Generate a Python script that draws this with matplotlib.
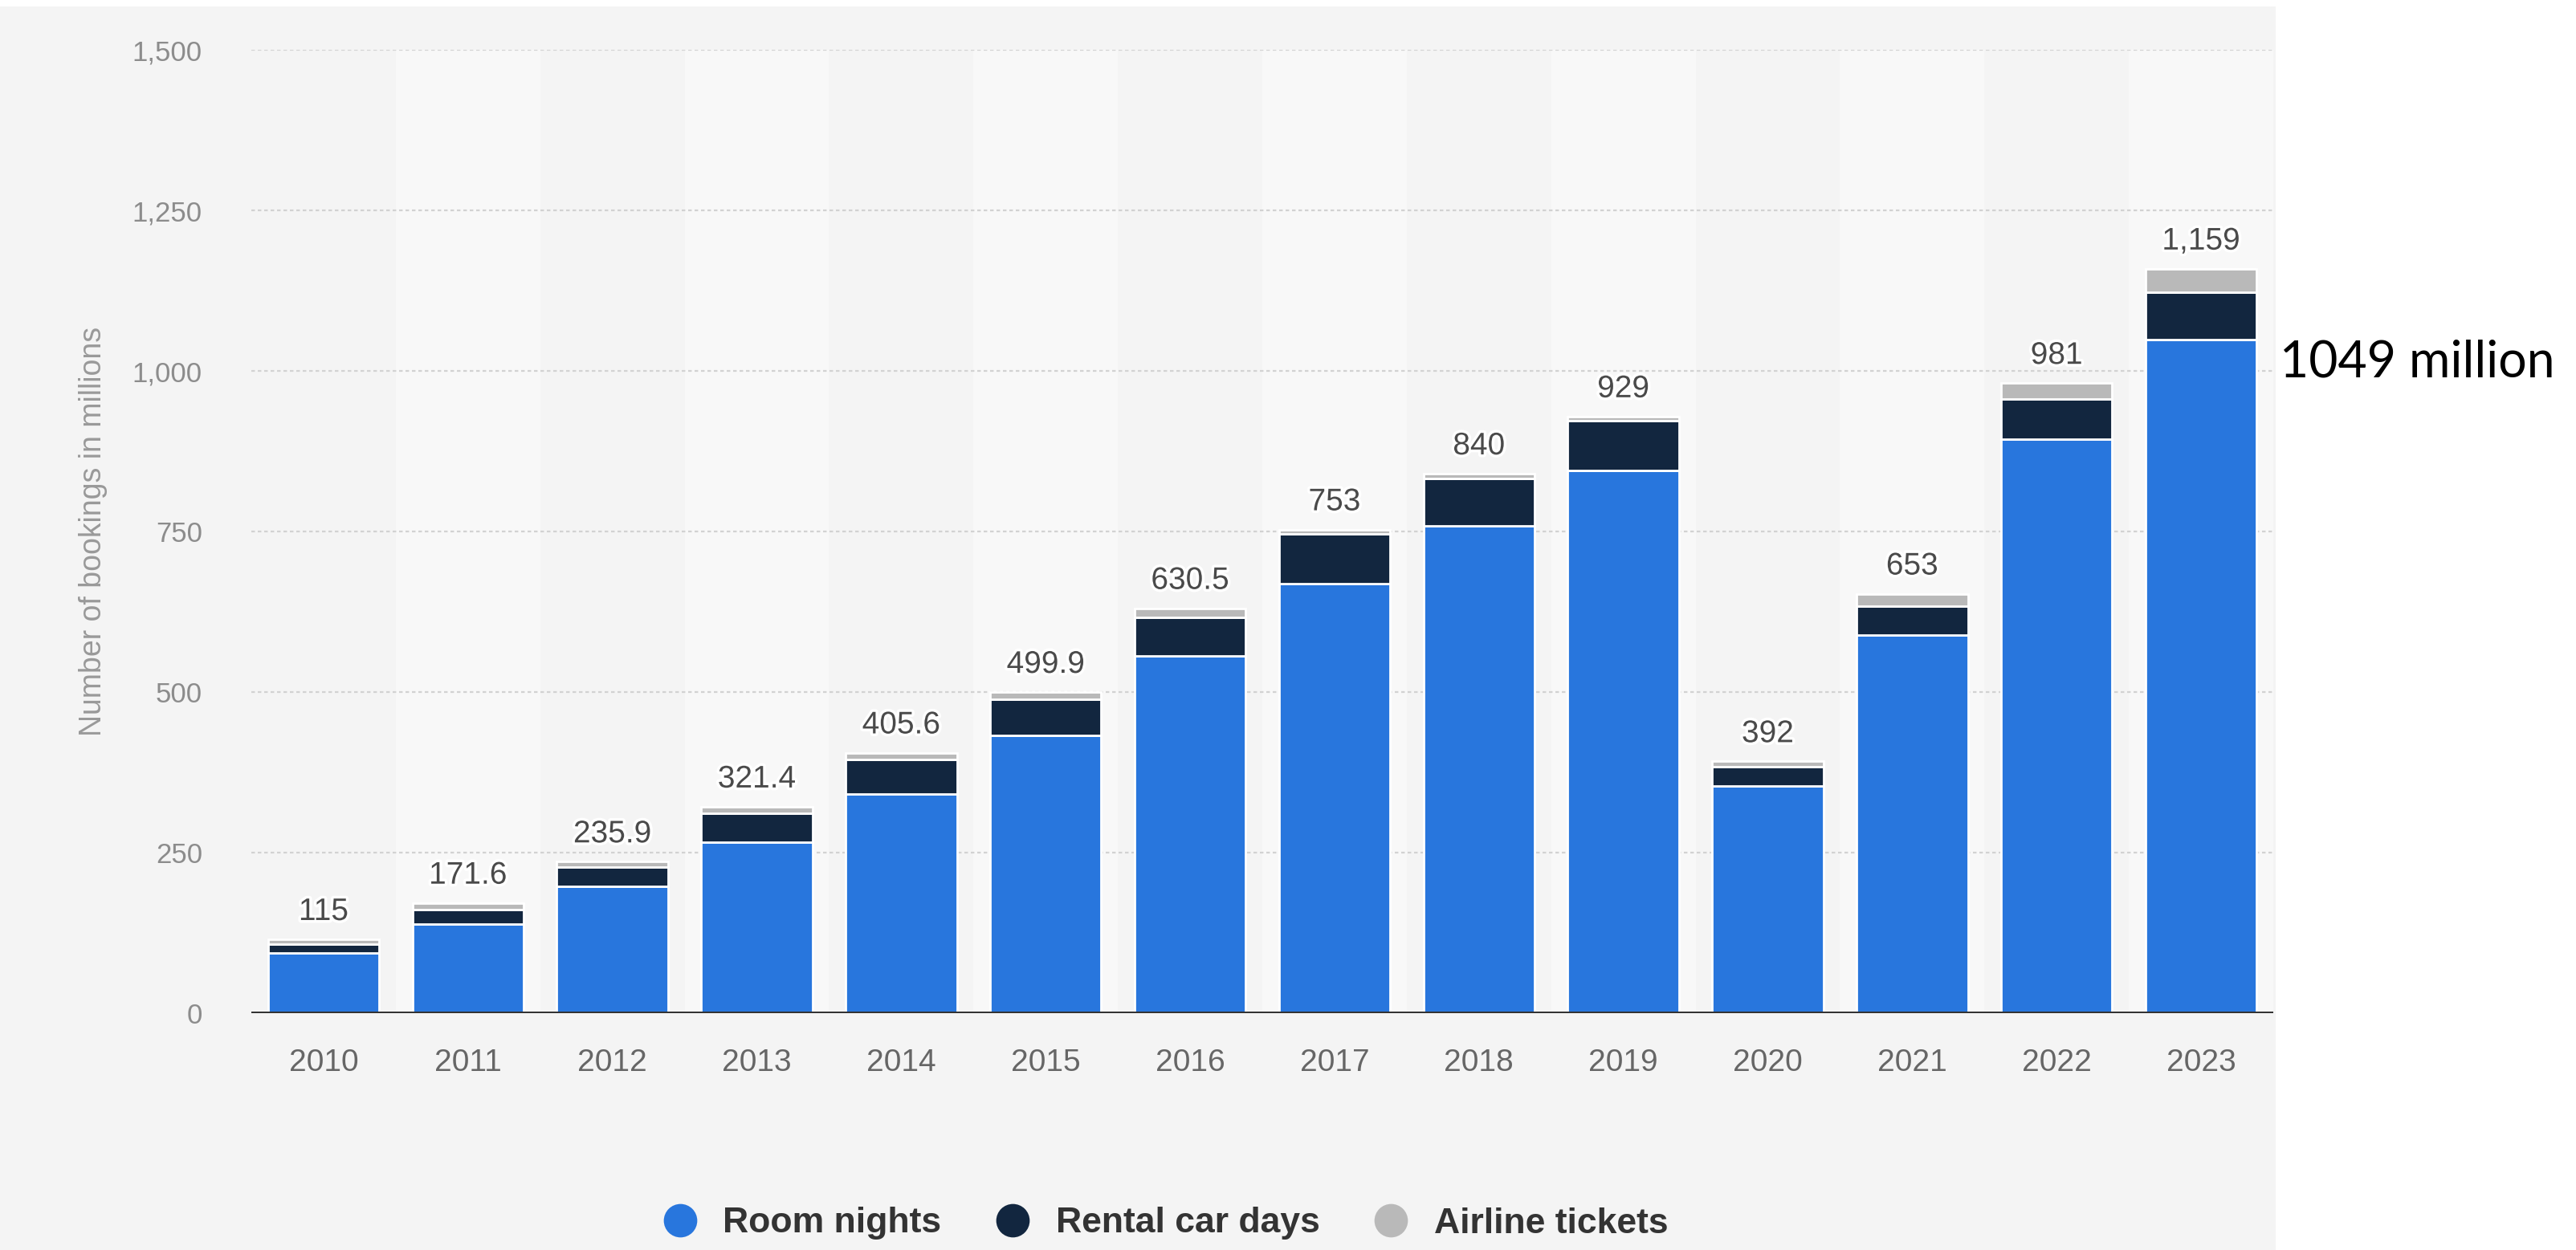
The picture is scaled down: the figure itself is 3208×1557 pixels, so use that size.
import matplotlib
matplotlib.use("Agg")
import matplotlib.pyplot as plt
import matplotlib.patheffects as pe
from matplotlib.patches import Rectangle
from matplotlib.lines import Line2D
import numpy as np

# bookings per year, in millions
years = ["2010", "2011", "2012", "2013", "2014", "2015", "2016",
         "2017", "2018", "2019", "2020", "2021", "2022", "2023"]
room_nights = [94, 139, 197, 266, 341, 432.0, 556.1, 669, 759, 845, 354, 589, 894, 1049]
rental_car_days = [14, 22, 30, 45, 54, 56.7, 60.6, 77, 74, 77, 30, 45, 62, 73]
airline_tickets = [7, 10.6, 8.9, 10.4, 10.6, 11.2, 13.8, 7, 7, 7, 8, 19, 25, 37]
total_labels = ["115", "171.6", "235.9", "321.4", "405.6", "499.9", "630.5",
                "753", "840", "929", "392", "653", "981", "1,159"]
yticks = [0, 250, 500, 750, 1000, 1250, 1500]
ytick_labels = ["0", "250", "500", "750", "1,000", "1,250", "1,500"]

plt.rcParams['font.family'] = ['Liberation Sans', 'DejaVu Sans']

W, H = 3208, 1557
fig = plt.figure(figsize=(W / 100, H / 100), dpi=100)
fig.patch.set_facecolor("white")

# grey panel behind the chart
fig.patches.append(Rectangle((0, 0), 2834 / W, 1 - 8 / H, transform=fig.transFigure,
                             facecolor="#f4f4f4", edgecolor="none", zorder=-10))

ax = fig.add_axes([313 / W, (H - 1262) / H, (2831 - 313) / W, 1200 / H])
ax.set_facecolor("none")

x = np.arange(len(years))
room = np.array(room_nights)
car = np.array(rental_car_days)
air = np.array(airline_tickets)

# lighter band behind every second year
for i in x[1::2]:
    ax.axvspan(i - 0.5, i + 0.5, color="#f8f8f8", zorder=0, lw=0)

ax.set_xlim(-0.5, len(years) - 0.5)
ax.set_ylim(0, 1500)

for yv in yticks[1:]:
    ax.axhline(yv, color="#d2d2d2", lw=1.6, ls=(0, (2, 1.6)), zorder=1)

bw = 0.77
kw = dict(width=bw, edgecolor="white", linewidth=2.0, zorder=3)
ax.bar(x, room, color="#2876dd", **kw)
ax.bar(x, car, bottom=room, color="#12263f", **kw)
ax.bar(x, air, bottom=room + car, color="#b9b9b9", **kw)

tot = room + car + air
for i, t in enumerate(tot):
    ax.text(i, t + 20, total_labels[i], ha="center", va="bottom", fontsize=28,
            color="#4a4a4a", zorder=5,
            path_effects=[pe.withStroke(linewidth=5, foreground="white")])

ax.axhline(0, color="#333333", lw=3.6, zorder=4)

ax.set_xticks(x)
ax.set_xticklabels(years, fontsize=28, color="#666666")
ax.set_yticks(yticks)
ax.set_yticklabels(ytick_labels, fontsize=25, color="#8c8c8c")
ax.tick_params(axis="both", length=0)
ax.tick_params(axis="x", pad=32)
ax.tick_params(axis="y", pad=44)
for s in ax.spines.values():
    s.set_visible(False)

ax.set_ylabel("Number of bookings in millions", fontsize=27, color="#999999", labelpad=22)

# room nights callout for the latest year
ax.text(1.003, 1049, "1049 million", transform=ax.get_yaxis_transform(),
        ha="left", va="top", fontsize=45, color="black", family=["Lato", "DejaVu Sans"])

handles = [Line2D([], [], marker="o", ls="none", markersize=30, markerfacecolor=c,
                  markeredgecolor="none") for c in ["#2876dd", "#12263f", "#b9b9b9"]]
fig.legend(handles, ["Room nights", "Rental car days", "Airline tickets"],
           loc="center", bbox_to_anchor=(1440 / W, (H - 1524) / H), ncol=3,
           frameon=False, handletextpad=0.2, columnspacing=1.0,
           prop={"size": 32, "weight": "bold"}, labelcolor="#333333")

fig.savefig("out.png", dpi=100)
